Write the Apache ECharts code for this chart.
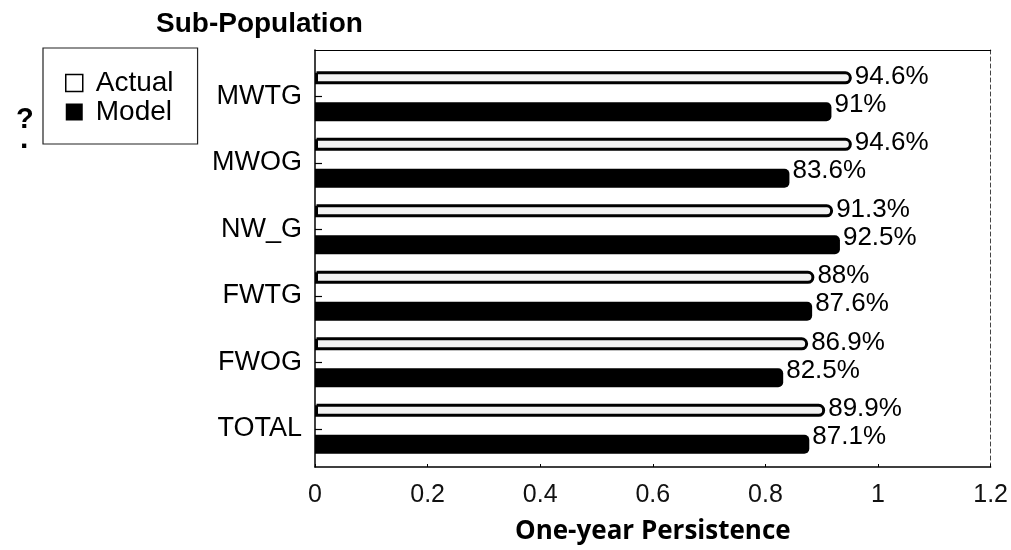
<!DOCTYPE html>
<html>
<head>
<meta charset="utf-8">
<script src="https://cdn.jsdelivr.net/npm/echarts@6/dist/echarts.min.js"></script>
<style>
  html, body { margin: 0; padding: 0; background: #fff; }
  #chart { width: 1011px; height: 550px; }
</style>
</head>
<body>
<div id="chart"></div>
<script>
// Sub-population groups, top to bottom
const categories = ['MWTG', 'MWOG', 'NW_G', 'FWTG', 'FWOG', 'TOTAL'];
// One-year persistence rates (share of 1)
const actualValues = [0.946, 0.946, 0.913, 0.88, 0.869, 0.899];
const modelValues  = [0.91, 0.836, 0.925, 0.876, 0.825, 0.871];
// Horizontal axis range and step
const xMin = 0, xMax = 1.2, xStep = 0.2;

const FONT = '"Liberation Sans", Arial, sans-serif';
const pct = p => +(p.value * 100).toFixed(1) + '%';

const chart = echarts.init(document.getElementById('chart'), null, { renderer: 'canvas' });

chart.setOption({
  backgroundColor: '#fff',
  animation: false,
  title: {
    text: 'Sub-Population',
    left: 151, top: 5,
    textStyle: { fontFamily: FONT, fontWeight: 'bold', fontSize: 28, color: '#000' }
  },
  legend: {
    orient: 'vertical',
    left: 43, top: 48,
    padding: [21, 24, 18, 22],
    borderColor: '#222', borderWidth: 1.2,
    itemWidth: 17, itemHeight: 17, itemGap: 1,
    icon: 'rect',
    textStyle: { fontFamily: FONT, fontSize: 28, color: '#000', padding: [0, 0, 0, 8] },
    data: [
      { name: 'Actual', itemStyle: { color: '#fff', borderColor: '#000', borderWidth: 1.5 } },
      { name: 'Model', itemStyle: { color: '#000', borderWidth: 0 } }
    ]
  },
  graphic: [
    { type: 'text', left: 16, top: 105, style: { text: '?', font: 'bold 29px ' + FONT, fill: '#000' } },
    { type: 'text', left: 20, top: 125, style: { text: '.', font: 'bold 30px ' + FONT, fill: '#000' } }
  ],
  grid: [
    // frame around the plot
    { left: 315, right: 15, top: 50, bottom: 78 },
    // bar area
    { left: 315, right: 15, top: 63, bottom: 88 }
  ],
  xAxis: [
    {
      gridIndex: 0, type: 'value', min: xMin, max: xMax, interval: xStep, position: 'bottom',
      axisLine: { show: true, onZero: false, lineStyle: { color: '#000', width: 1.5 } },
      axisTick: { show: true, inside: true, length: 3, lineStyle: { color: '#000' } },
      splitLine: { show: false },
      axisLabel: { fontFamily: FONT, fontSize: 25, color: '#111', margin: 16 },
      name: 'One-year Persistence',
      nameLocation: 'middle', nameGap: 52,
      nameTextStyle: { fontFamily: '"Open Sans", sans-serif', fontWeight: 'bold', fontSize: 26, color: '#000' }
    },
    {
      gridIndex: 0, type: 'value', min: xMin, max: xMax, position: 'top',
      axisLine: { show: true, onZero: false, lineStyle: { color: '#000', width: 1.2 } },
      axisTick: { show: false }, axisLabel: { show: false }, splitLine: { show: false }
    },
    { gridIndex: 1, type: 'value', min: xMin, max: xMax, show: false }
  ],
  yAxis: [
    {
      gridIndex: 0, type: 'value', min: 0, max: 1, position: 'left',
      axisLine: { show: true, onZero: false, lineStyle: { color: '#000', width: 1.5 } },
      axisTick: { show: false }, axisLabel: { show: false }, splitLine: { show: false }
    },
    {
      gridIndex: 0, type: 'value', min: 0, max: 1, position: 'right',
      axisLine: { show: true, onZero: false, lineStyle: { color: '#444', width: 1, type: [4, 3] } },
      axisTick: { show: false }, axisLabel: { show: false }, splitLine: { show: false }
    },
    {
      gridIndex: 1, type: 'category', data: categories, inverse: true,
      axisLine: { show: false },
      axisTick: { show: true, inside: true, alignWithLabel: true, length: 7, lineStyle: { color: '#000', width: 1.2 } },
      axisLabel: { fontFamily: FONT, fontSize: 27, color: '#000', margin: 13 },
      splitLine: { show: false }
    }
  ],
  series: [
    {
      name: 'Actual', type: 'bar', xAxisIndex: 2, yAxisIndex: 2,
      data: actualValues,
      barWidth: 13, barGap: '138%',
      itemStyle: { color: '#f2f2f2', borderColor: '#000', borderWidth: 3, borderRadius: [0, 5, 5, 0] },
      label: {
        show: true, position: 'right', distance: 3, offset: [0, -1],
        formatter: pct, fontFamily: FONT, fontSize: 26, color: '#000'
      }
    },
    {
      name: 'Model', type: 'bar', xAxisIndex: 2, yAxisIndex: 2,
      data: modelValues,
      barWidth: 19, barGap: '138%',
      itemStyle: { color: '#000', borderRadius: [0, 5, 5, 0] },
      label: {
        show: true, position: 'right', distance: 3, offset: [0, -7],
        formatter: pct, fontFamily: FONT, fontSize: 26, color: '#000'
      }
    }
  ]
});
</script>
</body>
</html>
